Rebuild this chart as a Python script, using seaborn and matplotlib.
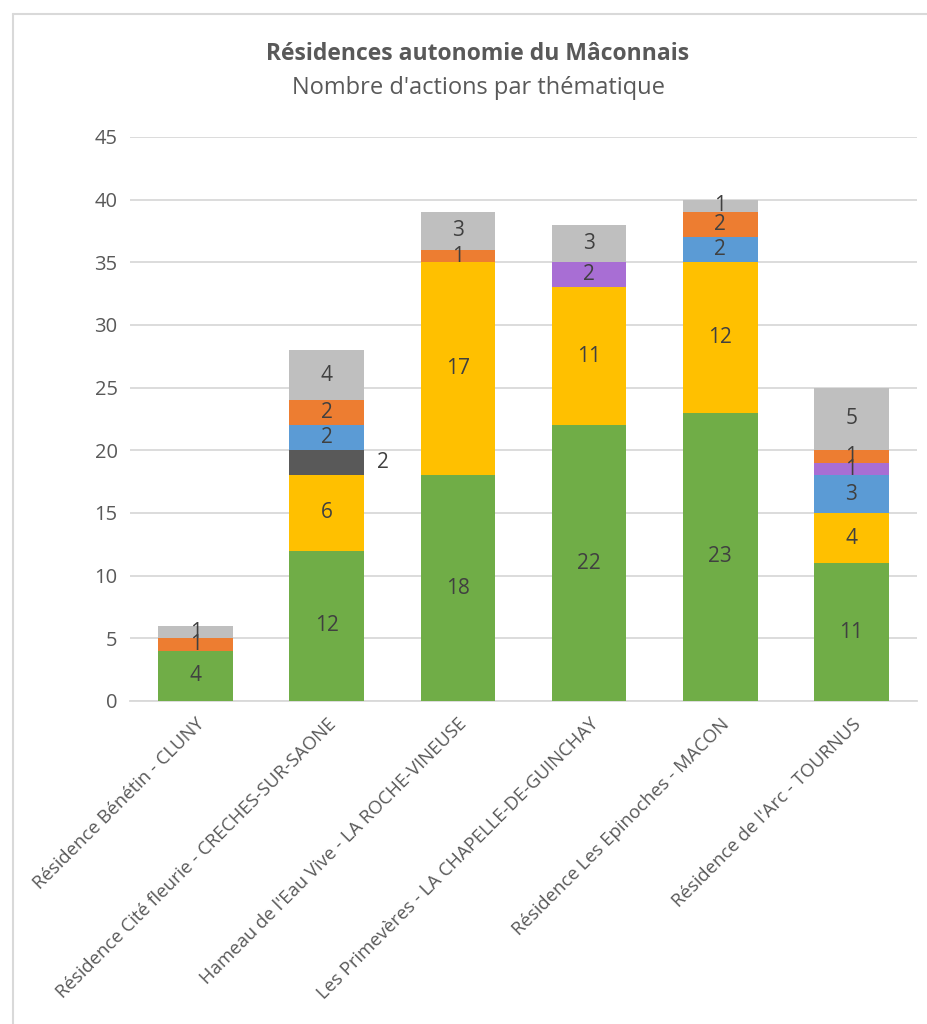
import matplotlib
matplotlib.use("Agg")
import matplotlib.pyplot as plt
import seaborn as sns
import pandas as pd
import numpy as np
from matplotlib.lines import Line2D

# Data
residences = [
    "Résidence Bénétin - CLUNY",
    "Résidence Cité fleurie - CRECHES-SUR-SAONE",
    "Hameau de l'Eau Vive - LA ROCHE-VINEUSE",
    "Les Primevères - LA CHAPELLE-DE-GUINCHAY",
    "Résidence Les Epinoches - MACON",
    "Résidence de l'Arc - TOURNUS",
]
green = [4, 12, 18, 22, 23, 11]
yellow = [0, 6, 17, 11, 12, 4]
dark_gray = [0, 2, 0, 0, 0, 0]
blue = [0, 2, 0, 0, 2, 3]
purple = [0, 0, 0, 2, 0, 1]
orange = [1, 2, 1, 0, 2, 1]
light_gray = [1, 4, 3, 3, 1, 5]

series = [green, yellow, dark_gray, blue, purple, orange, light_gray]
colors = ["#70AD47", "#FFC000", "#595959", "#5B9BD5", "#A86ED4", "#ED7D31", "#BFBFBF"]

sns.set_style("white")
plt.rcParams['font.family'] = ['Open Sans', 'DejaVu Sans']

fig = plt.figure(figsize=(9.27, 10.24), dpi=100)
ax = fig.add_axes([130 / 927, 323 / 1024, 787 / 927, 564 / 1024])

vals = np.array(series)
cum = np.cumsum(vals, axis=0)

# draw cumulative totals from the top layer down so each layer overlays
for k in range(len(series) - 1, -1, -1):
    df = pd.DataFrame({"res": residences, "val": cum[k]})
    sns.barplot(data=df, x="res", y="val", color=colors[k], width=0.57,
                saturation=1, linewidth=0, ax=ax, zorder=3)

# value labels
for k in range(len(series)):
    for i in range(len(residences)):
        v = vals[k][i]
        if v == 0:
            continue
        y = cum[k][i] - v / 2
        xpos = i + 0.43 if k == 2 else i
        ax.text(xpos, y, str(v), ha="center", va="center",
                fontsize=15, color="#404040", zorder=5)

ax.set_ylim(0, 45)
ax.set_xlim(-0.5, 5.5)
ax.set_yticks(range(0, 46, 5))
ax.yaxis.grid(True, color="#D9D9D9", linewidth=1.3)
ax.set_axisbelow(True)
for s in ["top", "right", "left"]:
    ax.spines[s].set_visible(False)
ax.spines["bottom"].set_color("#D9D9D9")
ax.spines["bottom"].set_linewidth(1.3)
ax.tick_params(axis="both", length=0, colors="#595959", labelsize=14.5)
ax.tick_params(axis="y", pad=9)
ax.set_xticks(range(len(residences)))
ax.set_xticklabels(residences, rotation=45, ha="right", rotation_mode="anchor",
                   fontsize=13.3, color="#595959")
ax.tick_params(axis="x", pad=10)
ax.set_xlabel("")
ax.set_ylabel("")

# titles
fig.text(478 / 927, 1 - 54 / 1024, "Résidences autonomie du Mâconnais", ha="center",
         va="center", fontsize=16.5, fontweight="bold", color="#595959")
fig.text(478 / 927, 1 - 88 / 1024, "Nombre d'actions par thématique", ha="center",
         va="center", fontsize=17, color="#595959")

# chart area border
fig.add_artist(Line2D([13 / 927, 13 / 927], [0, 1 - 14 / 1024], color="#D9D9D9",
                      linewidth=1.5, transform=fig.transFigure))
fig.add_artist(Line2D([13 / 927, 1], [1 - 14 / 1024, 1 - 14 / 1024], color="#D9D9D9",
                      linewidth=1.5, transform=fig.transFigure))

plt.savefig("out.png", dpi=100)
